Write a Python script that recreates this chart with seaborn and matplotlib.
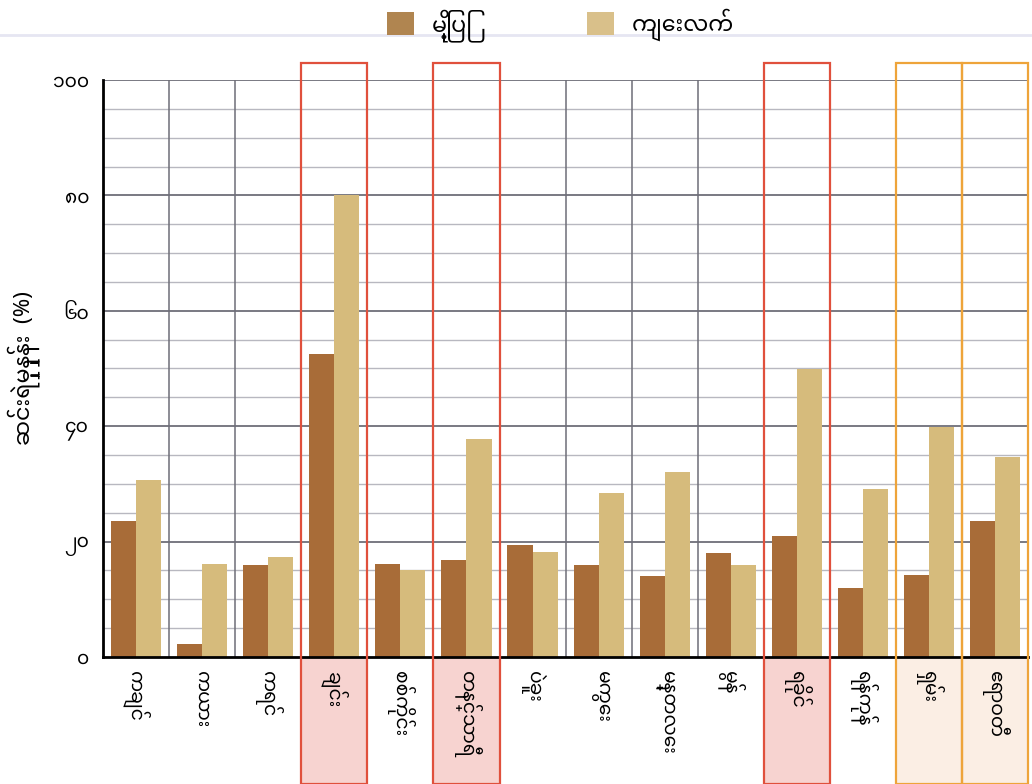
import pandas as pd
import numpy as np
import seaborn as sns
import matplotlib.pyplot as plt
from matplotlib import font_manager
from matplotlib.patches import Rectangle, Patch
from matplotlib.lines import Line2D
import matplotlib.transforms as mtransforms

regions = ["ကချင်", "ကယား", "ကရင်", "ချင်း", "စစ်ကိုင်း", "တနင်္သာရီ", "ပဲခူး",
           "မကွေး", "မန္တလေး", "မွန်", "ရခိုင်", "ရန်ကုန်", "ရှမ်း", "ဧရာဝတီ"]
urban = [23.5, 2.2, 16.0, 52.5, 16.2, 16.8, 19.4, 15.9, 14.1, 18.0, 21.0, 12.0, 14.2, 23.6]
rural = [30.6, 16.1, 17.3, 80.0, 15.1, 37.7, 18.2, 28.5, 32.1, 16.0, 49.9, 29.1, 39.9, 34.6]
series = ["မြို့ပြ", "ကျေးလက်"]
yticks = [0, 20, 40, 60, 80, 100]
ytick_labels = ["၀", "၂၀", "၄၀", "၆၀", "၈၀", "၁၀၀"]
red_boxes = ["ချင်း", "တနင်္သာရီ", "ရခိုင်"]
orange_boxes = ["ရှမ်း", "ဧရာဝတီ"]

# font with myanmar glyphs
names = {f.name for f in font_manager.fontManager.ttflist}
fam = [n for n in ["Noto Sans Myanmar", "Padauk", "Noto Sans Myanmar UI"] if n in names]
plt.rcParams['font.family'] = fam + ['DejaVu Sans']

df = pd.DataFrame({
    "region": regions * 2,
    "value": urban + rural,
    "type": [series[0]] * len(regions) + [series[1]] * len(regions),
})

colors = ["#a86c38", "#d6bb7c"]

fig = plt.figure(figsize=(10.32, 7.84), dpi=100)
ax = fig.add_axes([0.0998, 0.162, 0.8965, 0.736])

sns.barplot(data=df, x="region", y="value", hue="type", palette=colors,
            width=0.76, saturation=1, legend=False, ax=ax, zorder=3)

ax.set_ylim(0, 100)
ax.set_xlim(-0.5, len(regions) - 0.5)
ax.set_yticks(yticks)
ax.set_yticklabels(ytick_labels, fontsize=13.5, rotation=0)
ax.tick_params(axis="y", which="both", length=0, pad=10)
ax.tick_params(axis="x", length=0, pad=10)
ax.set_xticks(range(len(regions)))
ax.set_xticklabels(regions, rotation=270, fontsize=13.5, va="top")
ax.set_xlabel("")
ax.set_ylabel("ဆင်းရဲမှုနှုန်း  (%)", fontsize=16)
ax.yaxis.set_label_coords(-0.068, 0.5)

# grid
for v in np.arange(5, 101, 5):
    major = v % 20 == 0
    ax.axhline(v, color="#6e6e78" if major else "#b8b8c0", lw=1.3 if major else 1.0, zorder=1)
for i in range(len(regions) - 1):
    ax.axvline(i + 0.5, color="#6e6e78", lw=1.1, zorder=1)

for s in ["top", "right"]:
    ax.spines[s].set_visible(False)
ax.spines["left"].set_linewidth(2)
ax.spines["bottom"].set_linewidth(2)
ax.spines["left"].set_zorder(4)
ax.spines["bottom"].set_zorder(4)

# highlight boxes
trans = mtransforms.blended_transform_factory(ax.transData, ax.transAxes)
for names_, ec, fc in [(red_boxes, "#e0503c", "#f7d3d0"), (orange_boxes, "#eea43a", "#fbeee4")]:
    for r in names_:
        i = regions.index(r)
        ax.add_patch(Rectangle((i - 0.5, -0.22), 1, 0.22, transform=trans,
                               facecolor=fc, edgecolor="none", clip_on=False, zorder=0))
        ax.add_patch(Rectangle((i - 0.5, -0.22), 1, 1.249, transform=trans,
                               facecolor="none", edgecolor=ec, lw=1.6, clip_on=False, zorder=5))

# legend on top
handles = [Patch(facecolor="#b08550", edgecolor="none"), Patch(facecolor="#d9c08a", edgecolor="none")]
fig.legend(handles, series, loc="center", bbox_to_anchor=(0.543, 0.968), ncol=2,
           frameon=False, fontsize=16, handlelength=1.2, handleheight=1.2,
           columnspacing=5.2, handletextpad=0.8)
fig.add_artist(Line2D([0, 1], [0.955, 0.955], transform=fig.transFigure,
                      color="#e6e6f2", lw=2))

fig.savefig("out.png", dpi=100)
